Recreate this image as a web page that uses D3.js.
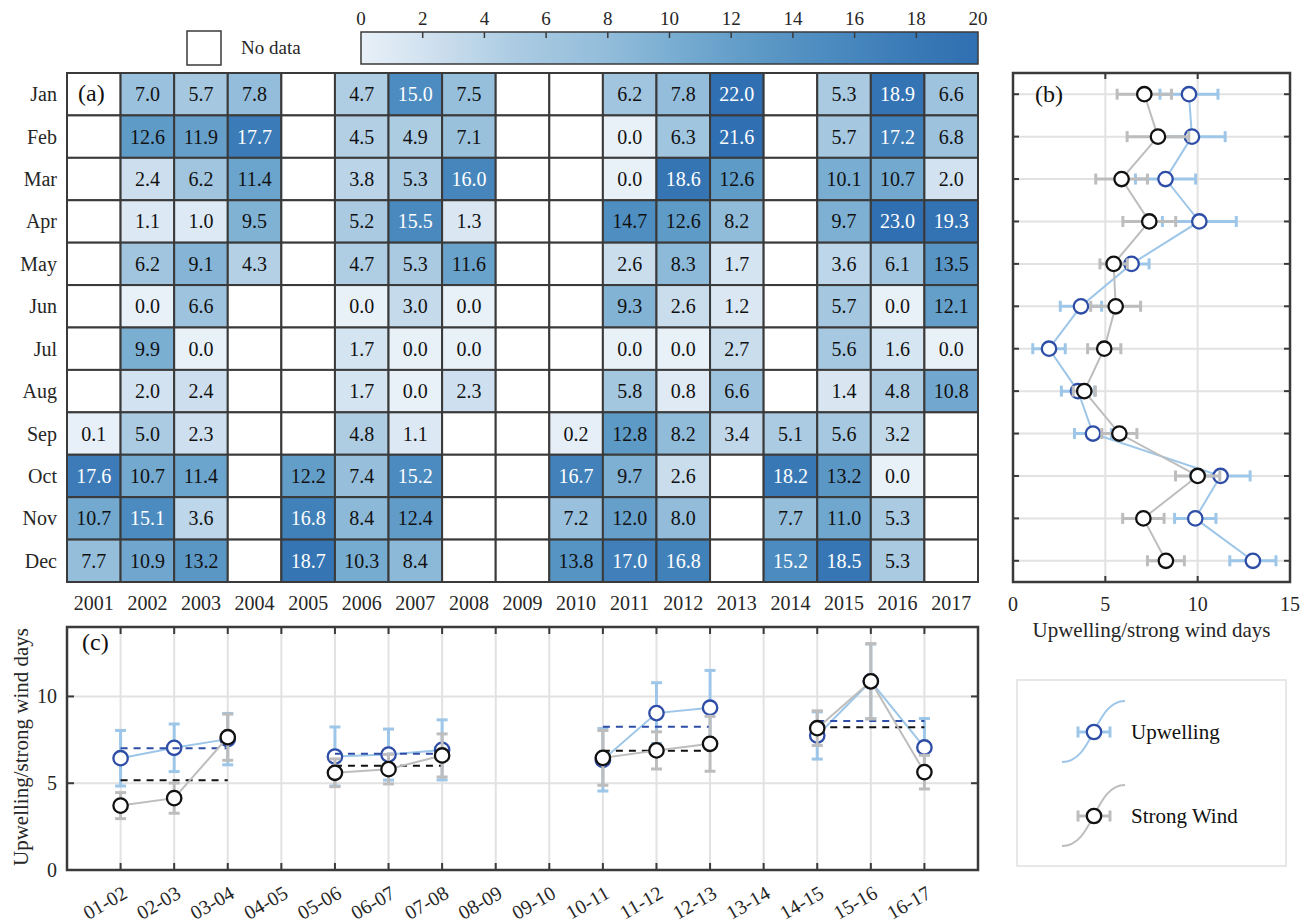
<!DOCTYPE html>
<html><head><meta charset="utf-8">
<script src="https://cdn.jsdelivr.net/npm/d3@7"></script>
<style>
html,body{margin:0;padding:0;background:#fff;}
svg{display:block;font-family:"Liberation Serif","Times New Roman",serif;}
</style></head><body>
<svg id="fig" width="1309" height="924"></svg>
<script>
// ---------- data ----------
const years = ["2001","2002","2003","2004","2005","2006","2007","2008","2009",
               "2010","2011","2012","2013","2014","2015","2016","2017"];
const months = ["Jan","Feb","Mar","Apr","May","Jun","Jul","Aug","Sep","Oct","Nov","Dec"];

// upwelling days per month and year (null = no data)
const jan = [null,7.0,5.7,7.8,null,4.7,15.0,7.5,null,null,6.2,7.8,22.0,null,5.3,18.9,6.6];
const feb = [null,12.6,11.9,17.7,null,4.5,4.9,7.1,null,null,0.0,6.3,21.6,null,5.7,17.2,6.8];
const mar = [null,2.4,6.2,11.4,null,3.8,5.3,16.0,null,null,0.0,18.6,12.6,null,10.1,10.7,2.0];
const apr = [null,1.1,1.0,9.5,null,5.2,15.5,1.3,null,null,14.7,12.6,8.2,null,9.7,23.0,19.3];
const may = [null,6.2,9.1,4.3,null,4.7,5.3,11.6,null,null,2.6,8.3,1.7,null,3.6,6.1,13.5];
const jun = [null,0.0,6.6,null,null,0.0,3.0,0.0,null,null,9.3,2.6,1.2,null,5.7,0.0,12.1];
const jul = [null,9.9,0.0,null,null,1.7,0.0,0.0,null,null,0.0,0.0,2.7,null,5.6,1.6,0.0];
const aug = [null,2.0,2.4,null,null,1.7,0.0,2.3,null,null,5.8,0.8,6.6,null,1.4,4.8,10.8];
const sep = [0.1,5.0,2.3,null,null,4.8,1.1,null,null,0.2,12.8,8.2,3.4,5.1,5.6,3.2,null];
const oct = [17.6,10.7,11.4,null,12.2,7.4,15.2,null,null,16.7,9.7,2.6,null,18.2,13.2,0.0,null];
const nov = [10.7,15.1,3.6,null,16.8,8.4,12.4,null,null,7.2,12.0,8.0,null,7.7,11.0,5.3,null];
const dec = [7.7,10.9,13.2,null,18.7,10.3,8.4,null,null,13.8,17.0,16.8,null,15.2,18.5,5.3,null];
const upwellingDays = [jan,feb,mar,apr,may,jun,jul,aug,sep,oct,nov,dec];

const colorbarTicks = [0,2,4,6,8,10,12,14,16,18,20];

// monthly climatology (mean and error) of upwelling and strong wind days
const monthlyUpwelling    = [9.53,9.69,8.26,10.09,6.42,3.68,1.95,3.52,4.33,11.24,9.87,12.99];
const monthlyUpwellingErr = [1.57,1.80,1.63,2.00,0.95,1.12,0.88,0.90,1.00,1.60,1.12,1.25];
const monthlyWind         = [7.11,7.85,5.88,7.38,5.45,5.56,4.94,3.86,5.76,10.00,7.06,8.28];
const monthlyWindErr      = [1.47,1.67,1.40,1.43,0.74,1.35,0.90,0.60,0.95,1.20,1.12,1.00];
const monthlyTicks = [0,5,10,15];

// winter seasons
const seasons = ["01-02","02-03","03-04","04-05","05-06","06-07","07-08","08-09","09-10",
                 "10-11","11-12","12-13","13-14","14-15","15-16","16-17"];
const winterUpwelling    = [6.44,7.04,7.54,null,6.54,6.65,6.92,null,null,6.35,9.04,9.35,null,7.75,10.87,7.06];
const winterUpwellingErr = [1.60,1.37,1.48,null,1.70,1.47,1.73,null,null,1.80,1.75,2.15,null,1.36,2.15,1.67];
const winterWind         = [3.71,4.14,7.65,null,5.60,5.81,6.60,null,null,6.46,6.89,7.27,null,8.17,10.87,5.64];
const winterWindErr      = [0.75,0.87,1.33,null,0.80,0.85,1.24,null,null,1.58,1.07,1.58,null,1.00,2.17,0.97];
// period means drawn as dashed lines
const periodStart         = [0,4,9,13];
const periodEnd           = [2,6,11,15];
const periodUpwellingMean = [7.01,6.70,8.25,8.58];
const periodWindMean      = [5.17,6.01,6.87,8.23];
const winterTicks = [0,5,10];

// ---------- style ----------
const AX = "#3a3a3a", TXT = "#262626", GRID = "#e2e2e2";
const UP_LINE = "#9dc6e8", UP_MARK = "#2e4da6";
const WI_LINE = "#bdbdbd", WI_MARK = "#111111";

const svg = d3.select("#fig");

// colour scale for the heat map
const color = d3.scaleLinear()
  .domain([0,2,5,8,10,12.6,15,18.6,20])
  .range(["#e8f0f8","#d2e2f0","#abcbe2","#92bcda","#7aaed2","#5f9bc7","#4d8cc0","#3575b4","#3070b2"])
  .clamp(true);

// ---------- (a) heat map ----------
const hx = d3.scaleBand().domain(years).range([67,978]);
const hy = d3.scaleBand().domain(months).range([73,582]);

const cells = [];
upwellingDays.forEach((row,i)=>row.forEach((v,j)=>cells.push({m:months[i],y:years[j],v})));

const gA = svg.append("g");
gA.selectAll("rect.cell").data(cells).join("rect")
  .attr("x",d=>hx(d.y)).attr("y",d=>hy(d.m))
  .attr("width",hx.bandwidth()).attr("height",hy.bandwidth())
  .attr("fill",d=>d.v==null?"#fff":color(d.v))
  .attr("stroke",AX).attr("stroke-width",2);
gA.selectAll("text.val").data(cells.filter(d=>d.v!=null)).join("text")
  .attr("x",d=>hx(d.y)+hx.bandwidth()/2).attr("y",d=>hy(d.m)+hy.bandwidth()/2)
  .attr("dy","0.35em").attr("text-anchor","middle")
  .attr("font-size",20).attr("fill",d=>d.v>=15?"#fff":"#111")
  .text(d=>d.v.toFixed(1));
gA.selectAll("text.month").data(months).join("text")
  .attr("x",57).attr("y",d=>hy(d)+hy.bandwidth()/2).attr("dy","0.35em")
  .attr("text-anchor","end").attr("font-size",20).attr("fill",TXT).text(d=>d);
gA.selectAll("text.year").data(years).join("text")
  .attr("x",d=>hx(d)+hx.bandwidth()/2).attr("y",610)
  .attr("text-anchor","middle").attr("font-size",20).attr("fill",TXT).text(d=>d);
gA.append("text").attr("x",78).attr("y",101).attr("font-size",24).attr("fill","#111").text("(a)");

// colour bar
const cbx = d3.scaleLinear().domain([0,20]).range([361,978]);
const grad = svg.append("defs").append("linearGradient").attr("id","cb");
d3.range(0,20.01,0.5).forEach(v=>grad.append("stop")
  .attr("offset",(v/20*100)+"%").attr("stop-color",color(v)));
svg.append("rect").attr("x",361).attr("y",32).attr("width",617).attr("height",32)
  .attr("fill","url(#cb)").attr("stroke",AX).attr("stroke-width",1.5);
svg.selectAll("line.cbt").data(colorbarTicks.slice(1,-1)).join("line")
  .attr("x1",d=>cbx(d)).attr("x2",d=>cbx(d)).attr("y1",32).attr("y2",38)
  .attr("stroke",AX).attr("stroke-width",1.5);
svg.selectAll("text.cbl").data(colorbarTicks).join("text")
  .attr("x",d=>cbx(d)).attr("y",25).attr("text-anchor","middle")
  .attr("font-size",19).attr("fill",TXT).text(d=>d);
// no-data key
svg.append("rect").attr("x",187).attr("y",31).attr("width",34).attr("height",34)
  .attr("fill","#fff").attr("stroke",AX).attr("stroke-width",1.5);
svg.append("text").attr("x",241).attr("y",54).attr("font-size",19).attr("fill",TXT).text("No data");

// helpers
function circles(g, xs, ys, stroke){
  g.selectAll(null).data(xs.map((x,i)=>[x,ys[i]])).join("circle")
    .attr("cx",d=>d[0]).attr("cy",d=>d[1]).attr("r",7.2)
    .attr("fill","#fff").attr("stroke",stroke).attr("stroke-width",2.3);
}

// ---------- (b) monthly climatology ----------
const bx = d3.scaleLinear().domain([0,15]).range([1013,1290]);
const bMid = m => hy(m)+hy.bandwidth()/2;
const gB = svg.append("g");
gB.selectAll("line.gv").data([5,10]).join("line")
  .attr("x1",d=>bx(d)).attr("x2",d=>bx(d)).attr("y1",73).attr("y2",582)
  .attr("stroke",GRID).attr("stroke-width",2);
gB.selectAll("line.gh").data(months).join("line")
  .attr("x1",1013).attr("x2",1290).attr("y1",bMid).attr("y2",bMid)
  .attr("stroke",GRID).attr("stroke-width",2);

function hErr(g, mean, err, col){
  const d = months.map((m,i)=>({y:bMid(m),a:bx(mean[i]-err[i]),b:bx(mean[i]+err[i])}));
  g.selectAll(null).data(d).join("line").attr("x1",e=>e.a).attr("x2",e=>e.b)
    .attr("y1",e=>e.y).attr("y2",e=>e.y).attr("stroke",col).attr("stroke-width",3);
  ["a","b"].forEach(k=>g.selectAll(null).data(d).join("line")
    .attr("x1",e=>e[k]).attr("x2",e=>e[k]).attr("y1",e=>e.y-5.5).attr("y2",e=>e.y+5.5)
    .attr("stroke",col).attr("stroke-width",3));
}
function bSeries(mean, err, lineCol, markCol){
  const g = gB.append("g");
  hErr(g, mean, err, lineCol);
  g.append("path").datum(months)
    .attr("d",d3.line().x((m,i)=>bx(mean[i])).y(m=>bMid(m)))
    .attr("fill","none").attr("stroke",lineCol).attr("stroke-width",2);
  circles(g, mean.map(v=>bx(v)), months.map(bMid), markCol);
}
bSeries(monthlyUpwelling, monthlyUpwellingErr, UP_LINE, UP_MARK);
bSeries(monthlyWind, monthlyWindErr, WI_LINE, WI_MARK);

gB.append("rect").attr("x",1013).attr("y",73).attr("width",277).attr("height",509)
  .attr("fill","none").attr("stroke",AX).attr("stroke-width",2.5);
gB.selectAll("line.xt").data([5,10]).join("line")
  .attr("x1",d=>bx(d)).attr("x2",d=>bx(d)).attr("y1",73).attr("y2",79)
  .attr("stroke",AX).attr("stroke-width",2);
gB.selectAll("line.xb").data([5,10]).join("line")
  .attr("x1",d=>bx(d)).attr("x2",d=>bx(d)).attr("y1",582).attr("y2",576)
  .attr("stroke",AX).attr("stroke-width",2);
gB.selectAll("line.yl").data(months).join("line")
  .attr("x1",1013).attr("x2",1019).attr("y1",bMid).attr("y2",bMid)
  .attr("stroke",AX).attr("stroke-width",2);
gB.selectAll("line.yr").data(months).join("line")
  .attr("x1",1290).attr("x2",1284).attr("y1",bMid).attr("y2",bMid)
  .attr("stroke",AX).attr("stroke-width",2);
gB.selectAll("text.xl").data(monthlyTicks).join("text")
  .attr("x",d=>bx(d)).attr("y",611).attr("text-anchor","middle")
  .attr("font-size",20).attr("fill",TXT).text(d=>d);
gB.append("text").attr("x",(1013+1290)/2).attr("y",637).attr("text-anchor","middle")
  .attr("font-size",21).attr("fill",TXT).text("Upwelling/strong wind days");
gB.append("text").attr("x",1035).attr("y",102).attr("font-size",24).attr("fill","#111").text("(b)");

// ---------- (c) winter seasons ----------
const cx = d3.scaleLinear().domain([0,17]).range([67,978]);
const cy = d3.scaleLinear().domain([0,14]).range([870,627]);
const sx = i => cx(i+1);
const gC = svg.append("g");
gC.selectAll("line.gv").data(seasons).join("line")
  .attr("x1",(d,i)=>sx(i)).attr("x2",(d,i)=>sx(i)).attr("y1",627).attr("y2",870)
  .attr("stroke",GRID).attr("stroke-width",2);
gC.selectAll("line.gh").data([5,10]).join("line")
  .attr("x1",67).attr("x2",978).attr("y1",d=>cy(d)).attr("y2",d=>cy(d))
  .attr("stroke",GRID).attr("stroke-width",2);

function vErr(g, mean, err, col){
  const d = [];
  mean.forEach((v,i)=>{ if(v!=null) d.push({x:sx(i),a:cy(v-err[i]),b:cy(v+err[i])}); });
  g.selectAll(null).data(d).join("line").attr("x1",e=>e.x).attr("x2",e=>e.x)
    .attr("y1",e=>e.a).attr("y2",e=>e.b).attr("stroke",col).attr("stroke-width",3);
  ["a","b"].forEach(k=>g.selectAll(null).data(d).join("line")
    .attr("x1",e=>e.x-5.5).attr("x2",e=>e.x+5.5).attr("y1",e=>e[k]).attr("y2",e=>e[k])
    .attr("stroke",col).attr("stroke-width",3));
}
function cSeries(mean, err, lineCol, markCol){
  const g = gC.append("g");
  vErr(g, mean, err, lineCol);
  g.append("path").datum(mean)
    .attr("d",d3.line().defined(v=>v!=null).x((v,i)=>sx(i)).y(v=>cy(v)))
    .attr("fill","none").attr("stroke",lineCol).attr("stroke-width",2);
  const idx = mean.map((v,i)=>i).filter(i=>mean[i]!=null);
  circles(g, idx.map(sx), idx.map(i=>cy(mean[i])), markCol);
}
function periodMeans(vals, col){
  gC.selectAll(null).data(vals).join("line")
    .attr("x1",(v,k)=>sx(periodStart[k])).attr("x2",(v,k)=>sx(periodEnd[k]))
    .attr("y1",v=>cy(v)).attr("y2",v=>cy(v))
    .attr("stroke",col).attr("stroke-width",2).attr("stroke-dasharray","7,6");
}
cSeries(winterUpwelling, winterUpwellingErr, UP_LINE, UP_MARK);
periodMeans(periodUpwellingMean, UP_MARK);
periodMeans(periodWindMean, WI_MARK);
cSeries(winterWind, winterWindErr, WI_LINE, WI_MARK);

gC.append("rect").attr("x",67).attr("y",627).attr("width",911).attr("height",243)
  .attr("fill","none").attr("stroke",AX).attr("stroke-width",2.5);
gC.selectAll("line.xt").data(seasons).join("line")
  .attr("x1",(d,i)=>sx(i)).attr("x2",(d,i)=>sx(i)).attr("y1",627).attr("y2",634)
  .attr("stroke",AX).attr("stroke-width",2);
gC.selectAll("line.xb").data(seasons).join("line")
  .attr("x1",(d,i)=>sx(i)).attr("x2",(d,i)=>sx(i)).attr("y1",870).attr("y2",863)
  .attr("stroke",AX).attr("stroke-width",2);
gC.selectAll("line.yl").data(winterTicks).join("line")
  .attr("x1",67).attr("x2",74).attr("y1",d=>cy(d)).attr("y2",d=>cy(d))
  .attr("stroke",AX).attr("stroke-width",2);
gC.selectAll("line.yr").data(winterTicks).join("line")
  .attr("x1",978).attr("x2",971).attr("y1",d=>cy(d)).attr("y2",d=>cy(d))
  .attr("stroke",AX).attr("stroke-width",2);
gC.selectAll("text.yl").data(winterTicks).join("text")
  .attr("x",57).attr("y",d=>cy(d)).attr("dy","0.35em").attr("text-anchor","end")
  .attr("font-size",20).attr("fill",TXT).text(d=>d);
gC.selectAll("text.xl").data(seasons).join("text")
  .attr("transform",(d,i)=>`translate(${sx(i)+8},${897}) rotate(-30)`)
  .attr("text-anchor","end").attr("font-size",20).attr("fill",TXT).text(d=>d);
gC.append("text").attr("transform","translate(28,747) rotate(-90)")
  .attr("text-anchor","middle").attr("font-size",21).attr("fill",TXT)
  .text("Upwelling/strong wind days");
gC.append("text").attr("x",82).attr("y",650).attr("font-size",24).attr("fill","#111").text("(c)");

// ---------- legend ----------
const gL = svg.append("g");
gL.append("rect").attr("x",1017).attr("y",680).attr("width",269).attr("height",186)
  .attr("fill","#fff").attr("stroke","#e0e0e0").attr("stroke-width",1.5);
const legendItems = [
  {label:"Upwelling",   line:UP_LINE, mark:UP_MARK, y:732},
  {label:"Strong Wind", line:WI_LINE, mark:WI_MARK, y:816}
];
legendItems.forEach(it=>{
  const x0=1062, x1=1125, xm=1094, y0=it.y+30, y1=it.y-31;
  gL.append("path")
    .attr("d",`M${x0},${y0} C${xm},${y0} ${xm},${y1} ${x1},${y1}`)
    .attr("fill","none").attr("stroke",it.line).attr("stroke-width",2);
  gL.append("line").attr("x1",1078).attr("x2",1110).attr("y1",it.y).attr("y2",it.y)
    .attr("stroke",it.line).attr("stroke-width",3);
  [1078,1110].forEach(x=>gL.append("line").attr("x1",x).attr("x2",x)
    .attr("y1",it.y-5.5).attr("y2",it.y+5.5).attr("stroke",it.line).attr("stroke-width",3));
  gL.append("circle").attr("cx",xm).attr("cy",it.y).attr("r",7.2)
    .attr("fill","#fff").attr("stroke",it.mark).attr("stroke-width",2.3);
  gL.append("text").attr("x",1131).attr("y",it.y).attr("dy","0.35em")
    .attr("font-size",21).attr("fill","#111").text(it.label);
});
</script></body></html>
